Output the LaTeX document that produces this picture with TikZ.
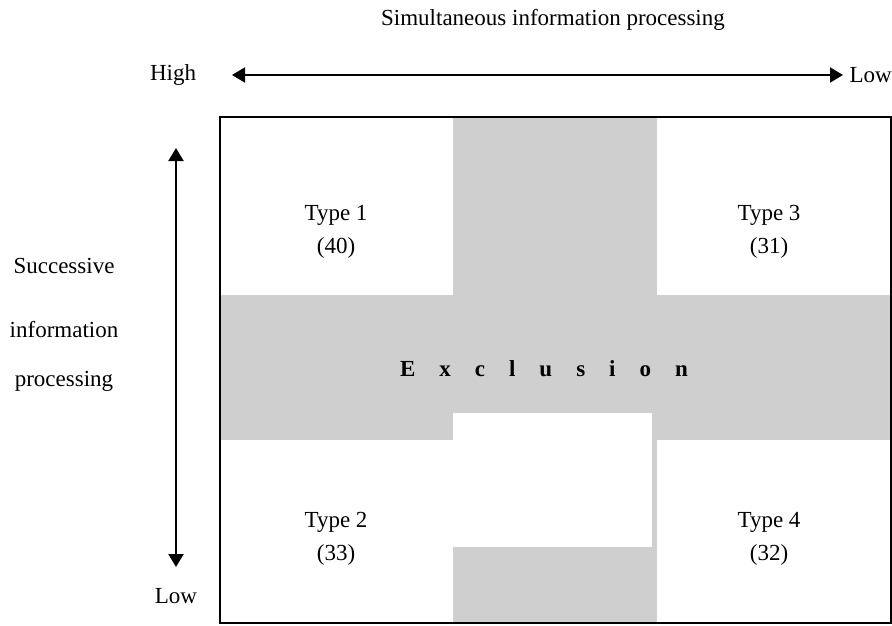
\documentclass[tikz,border=0pt]{standalone}
\usepackage{fontspec}
\setmainfont{Liberation Serif}
\usetikzlibrary{arrows.meta}
\newcommand\exgap{\hspace{24pt}}
\begin{document}
\begin{tikzpicture}[x=1pt,y=-1pt,
  lbl/.style={font=\fontsize{23}{26}\selectfont, inner sep=0pt},
  typebox/.style={font=\fontsize{23}{33}\selectfont, inner sep=0pt, align=center},
  bandfill/.style={fill=black!19, draw=none},
  axis/.style={line width=2.2pt, {Triangle[length=13pt,width=15pt]}-{Triangle[length=13pt,width=15pt]}},
  frameline/.style={line width=2.2pt}]
\useasboundingbox (0,0) rectangle (892,626);
% shaded exclusion bands
\fill[bandfill] (453,117) rectangle (657,623);
\fill[bandfill] (220,295) rectangle (891,440);
\fill[white] (453,413) rectangle (652,547);
% frame
\node[frameline, draw, minimum width=671pt, minimum height=506pt, inner sep=0pt] (frame) at (555.5,370) {};
% top axis
\node[lbl] (title) at (553,20) {Simultaneous information processing};
\node[lbl] (high) at (173,75) {High};
\node[lbl, anchor=east] (low) at (892,75) {Low};
\coordinate (hl) at (232,75);
\coordinate (hr) at (843,75);
\draw[axis] (hl) -- (hr);
% left axis
\coordinate (vt) at (176,148);
\coordinate (vb) at (176,567);
\draw[axis] (vt) -- (vb);
\node[lbl, anchor=base] (s1) at (64,273) {Successive};
\node[lbl, anchor=base] (s2) at (64,337) {information};
\node[lbl, anchor=base] (s3) at (64,386) {processing};
\node[lbl] (lowv) at (176,596) {Low};
% types
\node[typebox] (t1) at (336,232) {Type 1\\(40)};
\node[typebox] (t3) at (769,232) {Type 3\\(31)};
\node[typebox] (t2) at (336,539) {Type 2\\(33)};
\node[typebox] (t4) at (769,539) {Type 4\\(32)};
% exclusion
\node[font=\fontsize{23}{26}\selectfont\bfseries, inner sep=0pt] (excl) at (544,369)
  {E\exgap x\exgap c\exgap l\exgap u\exgap s\exgap i\exgap o\exgap n};
\end{tikzpicture}
\end{document}
